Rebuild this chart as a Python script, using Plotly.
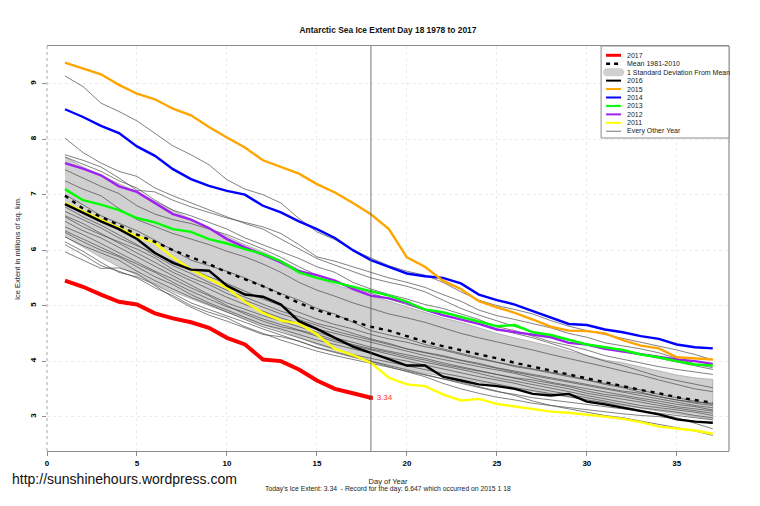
import plotly.graph_objects as go

days = list(range(1, 38))

ice_2017 = [5.45, 5.34, 5.2, 5.07, 5.02, 4.86, 4.77, 4.7, 4.6, 4.42, 4.3, 4.03, 4.0, 3.85, 3.65, 3.5, 3.42, 3.34]
ice_2016 = [6.83, 6.67, 6.52, 6.38, 6.2, 5.95, 5.77, 5.65, 5.63, 5.36, 5.2, 5.16, 5.02, 4.72, 4.58, 4.42, 4.26, 4.15, 4.03, 3.92, 3.92, 3.72, 3.65, 3.58, 3.55, 3.5, 3.41, 3.38, 3.41, 3.27, 3.22, 3.16, 3.09, 3.04, 2.95, 2.91, 2.89]
ice_2015 = [9.38, 9.27, 9.17, 8.98, 8.82, 8.72, 8.55, 8.43, 8.22, 8.03, 7.85, 7.62, 7.5, 7.38, 7.19, 7.04, 6.85, 6.647, 6.38, 5.87, 5.7, 5.45, 5.3, 5.08, 4.97, 4.87, 4.75, 4.62, 4.55, 4.54, 4.5, 4.38, 4.28, 4.23, 4.07, 4.05, 4.03]
ice_2014 = [8.54, 8.4, 8.24, 8.11, 7.87, 7.7, 7.46, 7.28, 7.16, 7.07, 7.0, 6.8, 6.68, 6.52, 6.38, 6.22, 6.0, 5.82, 5.7, 5.58, 5.53, 5.5, 5.4, 5.2, 5.1, 5.02, 4.9, 4.78, 4.67, 4.65, 4.57, 4.52, 4.45, 4.4, 4.3, 4.25, 4.23]
ice_2013 = [7.1, 6.9, 6.82, 6.72, 6.58, 6.5, 6.38, 6.33, 6.2, 6.12, 6.02, 5.93, 5.8, 5.6, 5.5, 5.42, 5.33, 5.25, 5.18, 5.07, 4.93, 4.88, 4.8, 4.72, 4.63, 4.65, 4.52, 4.47, 4.38, 4.3, 4.25, 4.2, 4.12, 4.07, 4.0, 3.94, 3.92]
ice_2012 = [7.57, 7.47, 7.35, 7.15, 7.05, 6.85, 6.65, 6.55, 6.4, 6.2, 6.05, 5.92, 5.78, 5.62, 5.55, 5.45, 5.3, 5.18, 5.13, 5.05, 4.93, 4.83, 4.75, 4.67, 4.57, 4.52, 4.47, 4.43, 4.33, 4.3, 4.22, 4.17, 4.12, 4.07, 4.03, 4.0, 3.95]
ice_2011 = [6.85, 6.7, 6.55, 6.4, 6.25, 6.13, 5.87, 5.65, 5.48, 5.32, 5.07, 4.87, 4.73, 4.68, 4.48, 4.22, 4.11, 3.97, 3.7, 3.58, 3.55, 3.4, 3.29, 3.32, 3.23, 3.18, 3.14, 3.09, 3.07, 3.04, 3.0, 2.96, 2.9, 2.82, 2.78, 2.75, 2.69]
mean_81_10 = [6.98, 6.75, 6.6, 6.45, 6.28, 6.15, 6.0, 5.88, 5.75, 5.6, 5.47, 5.35, 5.2, 5.05, 4.92, 4.82, 4.72, 4.62, 4.55, 4.45, 4.35, 4.27, 4.2, 4.13, 4.05, 3.97, 3.9, 3.82, 3.75, 3.68, 3.62, 3.55, 3.48, 3.42, 3.35, 3.3, 3.25]
sd_upper = [7.68, 7.5, 7.35, 7.2, 7.05, 6.88, 6.72, 6.55, 6.4, 6.25, 6.1, 5.97, 5.82, 5.65, 5.5, 5.38, 5.27, 5.17, 5.08, 4.98, 4.88, 4.78, 4.7, 4.6, 4.5, 4.42, 4.35, 4.27, 4.18, 4.1, 4.02, 3.97, 3.9, 3.82, 3.75, 3.7, 3.67]
sd_lower = [6.24, 6.05, 5.87, 5.7, 5.55, 5.4, 5.25, 5.12, 5.0, 4.88, 4.76, 4.65, 4.55, 4.43, 4.3, 4.2, 4.1, 4.0, 3.93, 3.85, 3.78, 3.72, 3.67, 3.62, 3.57, 3.5, 3.45, 3.4, 3.35, 3.3, 3.25, 3.2, 3.15, 3.1, 3.05, 3.0, 2.95]

# every other year, thin lines
other_years = [
    [9.14, 8.95, 8.65, 8.5, 8.33, 8.1, 7.88, 7.72, 7.54, 7.27, 7.1, 7.0, 6.85, 6.57, 6.33, 6.19, 6.0, 5.86, 5.72, 5.62, 5.55, 5.42, 5.25, 5.1, 5.0, 4.93, 4.85, 4.73, 4.63, 4.55, 4.48, 4.42, 4.35, 4.27, 4.2, 4.12, 4.02],
    [8.02, 7.76, 7.57, 7.42, 7.33, 7.12, 6.98, 6.85, 6.72, 6.6, 6.48, 6.38, 6.2, 6.02, 5.85, 5.73, 5.62, 5.5, 5.42, 5.35, 5.25, 5.1, 4.95, 4.83, 4.73, 4.62, 4.52, 4.45, 4.38, 4.3, 4.22, 4.17, 4.12, 4.05, 3.98, 3.92, 3.85],
    [7.72, 7.62, 7.5, 7.3, 7.08, 7.05, 6.9, 6.78, 6.68, 6.58, 6.5, 6.42, 6.3, 6.1, 5.88, 5.8, 5.7, 5.6, 5.5, 5.42, 5.33, 5.2, 5.08, 4.92, 4.82, 4.75, 4.67, 4.6, 4.5, 4.43, 4.33, 4.28, 4.22, 4.15, 4.05, 3.95, 3.88],
    [7.68, 7.55, 7.42, 7.25, 7.12, 6.9, 6.72, 6.62, 6.5, 6.38, 6.22, 6.1, 5.98, 5.85, 5.7, 5.6, 5.42, 5.3, 5.2, 5.12, 5.02, 4.95, 4.85, 4.75, 4.62, 4.55, 4.45, 4.35, 4.28, 4.2, 4.1, 4.03, 3.97, 3.9, 3.85, 3.8, 3.76],
    [7.45, 7.3, 7.15, 7.02, 6.8, 6.65, 6.55, 6.48, 6.38, 6.28, 6.15, 6.02, 5.87, 5.7, 5.55, 5.45, 5.33, 5.22, 5.12, 5.02, 4.92, 4.82, 4.75, 4.68, 4.58, 4.5, 4.42, 4.32, 4.22, 4.1, 4.0, 3.92, 3.82, 3.72, 3.65, 3.58, 3.52],
    [7.25, 7.1, 6.98, 6.75, 6.55, 6.42, 6.3, 6.2, 6.1, 5.98, 5.88, 5.75, 5.6, 5.42, 5.28, 5.17, 5.05, 4.95, 4.85, 4.78, 4.7, 4.6, 4.5, 4.42, 4.35, 4.28, 4.2, 4.12, 4.05, 3.98, 3.9, 3.82, 3.75, 3.66, 3.58, 3.5, 3.45],
    [7.0, 6.82, 6.62, 6.48, 6.35, 6.18, 6.0, 5.82, 5.72, 5.62, 5.5, 5.35, 5.22, 5.1, 4.95, 4.85, 4.7, 4.55, 4.47, 4.4, 4.3, 4.22, 4.14, 4.05, 3.97, 3.9, 3.85, 3.78, 3.72, 3.66, 3.58, 3.52, 3.44, 3.36, 3.3, 3.24, 3.2],
    [6.78, 6.6, 6.45, 6.28, 6.1, 5.9, 5.72, 5.58, 5.42, 5.28, 5.15, 5.02, 4.9, 4.8, 4.68, 4.6, 4.5, 4.4, 4.32, 4.22, 4.15, 4.08, 4.0, 3.94, 3.86, 3.8, 3.74, 3.68, 3.62, 3.55, 3.5, 3.44, 3.38, 3.32, 3.26, 3.2, 3.16],
    [6.62, 6.48, 6.3, 6.12, 5.95, 5.78, 5.6, 5.45, 5.3, 5.15, 5.02, 4.9, 4.78, 4.68, 4.58, 4.5, 4.42, 4.33, 4.26, 4.18, 4.1, 4.03, 3.96, 3.9, 3.84, 3.78, 3.7, 3.62, 3.56, 3.5, 3.44, 3.38, 3.33, 3.28, 3.22, 3.18, 3.12],
    [6.52, 6.35, 6.22, 6.05, 5.88, 5.72, 5.55, 5.38, 5.2, 5.05, 4.93, 4.82, 4.72, 4.62, 4.52, 4.42, 4.34, 4.25, 4.18, 4.12, 4.05, 3.97, 3.9, 3.82, 3.75, 3.68, 3.62, 3.56, 3.5, 3.42, 3.37, 3.32, 3.26, 3.2, 3.15, 3.1, 3.06],
    [6.42, 6.28, 6.12, 5.95, 5.78, 5.62, 5.48, 5.32, 5.18, 5.0, 4.85, 4.72, 4.62, 4.55, 4.45, 4.35, 4.28, 4.2, 4.12, 4.05, 3.98, 3.92, 3.85, 3.78, 3.7, 3.64, 3.58, 3.52, 3.45, 3.38, 3.32, 3.26, 3.2, 3.16, 3.12, 3.08, 3.02],
    [6.32, 6.15, 6.0, 5.88, 5.7, 5.52, 5.38, 5.2, 5.05, 4.92, 4.78, 4.66, 4.58, 4.48, 4.38, 4.3, 4.22, 4.14, 4.06, 4.0, 3.93, 3.86, 3.78, 3.72, 3.66, 3.6, 3.52, 3.46, 3.4, 3.34, 3.28, 3.22, 3.16, 3.12, 3.08, 3.02, 2.98],
    [6.24, 6.08, 5.95, 5.82, 5.62, 5.45, 5.3, 5.15, 5.02, 4.88, 4.75, 4.62, 4.52, 4.42, 4.32, 4.22, 4.12, 4.05, 3.98, 3.92, 3.85, 3.78, 3.72, 3.65, 3.58, 3.52, 3.47, 3.42, 3.36, 3.3, 3.25, 3.18, 3.12, 3.05, 2.98, 2.88, 2.78],
    [6.15, 5.98, 5.78, 5.6, 5.52, 5.38, 5.22, 5.05, 4.93, 4.82, 4.7, 4.58, 4.47, 4.35, 4.25, 4.17, 4.08, 4.0, 3.92, 3.84, 3.76, 3.68, 3.62, 3.54, 3.46, 3.38, 3.28, 3.2, 3.14, 3.08, 3.02, 2.98, 2.92, 2.86, 2.8, 2.74, 2.66],
    [6.1, 5.92, 5.72, 5.62, 5.5, 5.32, 5.18, 5.0, 4.88, 4.78, 4.62, 4.5, 4.38, 4.28, 4.18, 4.1, 4.03, 3.96, 3.9, 3.82, 3.75, 3.68, 3.6, 3.52, 3.45, 3.4, 3.34, 3.3, 3.26, 3.22, 3.18, 3.14, 3.1, 3.06, 3.02, 2.98, 2.94],
    [5.97, 5.82, 5.67, 5.68, 5.58, 5.36, 5.15, 4.97, 4.83, 4.72, 4.6, 4.48, 4.44, 4.36, 4.24, 4.15, 4.07, 3.99, 3.9, 3.82, 3.72, 3.6, 3.5, 3.42, 3.35, 3.3, 3.24, 3.2, 3.16, 3.12, 3.08, 3.05, 3.02, 3.0, 2.96, 2.92, 2.88],
    [6.6, 6.42, 6.28, 6.15, 6.02, 5.86, 5.65, 5.5, 5.38, 5.22, 5.1, 4.98, 4.85, 4.75, 4.64, 4.54, 4.46, 4.38, 4.3, 4.22, 4.16, 4.1, 4.02, 3.96, 3.88, 3.82, 3.76, 3.7, 3.64, 3.58, 3.52, 3.46, 3.42, 3.36, 3.3, 3.26, 3.24],
    [6.35, 6.2, 6.05, 5.9, 5.76, 5.6, 5.42, 5.26, 5.12, 4.98, 4.88, 4.76, 4.66, 4.56, 4.48, 4.38, 4.3, 4.22, 4.16, 4.08, 4.02, 3.94, 3.88, 3.82, 3.76, 3.7, 3.66, 3.6, 3.54, 3.46, 3.4, 3.36, 3.3, 3.24, 3.18, 3.14, 3.1],
    [6.7, 6.55, 6.4, 6.22, 6.08, 5.95, 5.8, 5.66, 5.52, 5.4, 5.26, 5.12, 5.0, 4.88, 4.76, 4.66, 4.58, 4.48, 4.4, 4.34, 4.26, 4.2, 4.12, 4.04, 3.98, 3.92, 3.86, 3.8, 3.74, 3.66, 3.6, 3.54, 3.48, 3.4, 3.34, 3.28, 3.22],
]

legend_labels = ["2017", "Mean 1981-2010", "1 Standard Deviation From Mean", "2016", "2015", "2014", "2013", "2012", "2011", "Every Other Year"]
legend_colors = ["#ff0000", "#000000", "#d0d0d0", "#000000", "#ffa500", "#0000ff", "#00ff00", "#a020f0", "#ffff00", "#555555"]
legend_widths = [3, 2.4, 0, 2, 2, 2, 2, 2, 2, 0.8]

FONT = "Liberation Sans"
LINE_W = 2.4


def px_x(px):
    # window pixel to paper
    return (px - 46.5) / 682.5


def px_y(py):
    return (451 - py) / 405


fig = go.Figure()

fig.add_trace(go.Scatter(x=days + days[::-1], y=sd_upper + sd_lower[::-1], mode="lines", fill="toself",
                         fillcolor="#d0d0d0", line=dict(color="#8a8a8a", width=0.5)))

for vals in other_years:
    fig.add_trace(go.Scatter(x=days, y=vals, mode="lines", line=dict(color="#4a4a4a", width=0.7)))

fig.add_trace(go.Scatter(x=days, y=ice_2011, mode="lines", line=dict(color="#ffff00", width=LINE_W), name="2011"))
fig.add_trace(go.Scatter(x=days, y=ice_2012, mode="lines", line=dict(color="#a020f0", width=LINE_W), name="2012"))
fig.add_trace(go.Scatter(x=days, y=ice_2013, mode="lines", line=dict(color="#00ff00", width=LINE_W), name="2013"))
fig.add_trace(go.Scatter(x=days, y=ice_2014, mode="lines", line=dict(color="#0000ff", width=LINE_W), name="2014"))
fig.add_trace(go.Scatter(x=days, y=ice_2015, mode="lines", line=dict(color="#ffa500", width=LINE_W), name="2015"))
fig.add_trace(go.Scatter(x=days, y=ice_2016, mode="lines", line=dict(color="#000000", width=LINE_W), name="2016"))
fig.add_trace(go.Scatter(x=days, y=mean_81_10, mode="lines", line=dict(color="#000000", width=LINE_W, dash="4px,5px"),
                         name="Mean 1981-2010"))
fig.add_trace(go.Scatter(x=days[:len(ice_2017)], y=ice_2017, mode="lines", line=dict(color="#ff0000", width=4), name="2017"))
fig.add_trace(go.Scatter(x=[days[len(ice_2017) - 1]], y=[ice_2017[-1]], mode="markers+text",
                         marker=dict(color="#ff0000", size=4, symbol="square"),
                         text=[f" {ice_2017[-1]}"], textposition="middle right",
                         textfont=dict(color="#ff3030", size=8, family=FONT)))

fig.add_vline(x=18, line_color="#555555", line_width=0.8)

# right edge solid, left edge dotted like the original device
fig.add_shape(type="line", xref="paper", yref="paper", x0=1, x1=1, y0=0, y1=1, line=dict(color="#8c8c8c", width=1.2))
fig.add_shape(type="line", xref="paper", yref="paper", x0=0, x1=0, y0=0, y1=1, line=dict(color="#a8a8a8", width=1, dash="dot"))

# legend box, plotly's own legend can't make rows this tight
row_h = 8.44
fig.add_shape(type="rect", xref="paper", yref="paper", x0=px_x(601), x1=1, y0=px_y(138), y1=1,
              fillcolor="white", line=dict(color="#8c8c8c", width=1), layer="above")

annotations = []
for i, (label, color, width) in enumerate(zip(legend_labels, legend_colors, legend_widths)):
    row_y = 55.3 + i * row_h
    if width == 0:
        x0, x1, y0, y1 = px_x(603), px_x(624), px_y(row_y + 4), px_y(row_y - 4)
        r = px_x(607) - px_x(603)
        fig.add_shape(type="path", xref="paper", yref="paper", layer="above", fillcolor=color, line=dict(width=0),
                      path=f"M {x0 + r} {y0} L {x1 - r} {y0} Q {x1} {y0} {x1} {(y0 + y1) / 2} Q {x1} {y1} {x1 - r} {y1} "
                           f"L {x0 + r} {y1} Q {x0} {y1} {x0} {(y0 + y1) / 2} Q {x0} {y0} {x0 + r} {y0} Z")
    else:
        dash = "4px,4px" if label.startswith("Mean") else "solid"
        fig.add_shape(type="line", xref="paper", yref="paper", layer="above", x0=px_x(606), x1=px_x(621),
                      y0=px_y(row_y), y1=px_y(row_y), line=dict(color=color, width=width, dash=dash))
    annotations.append(dict(text=label, xref="paper", yref="paper", x=px_x(626), y=px_y(row_y), xanchor="left",
                            yanchor="middle", showarrow=False, xshift=-1,
                            font=dict(family=FONT, size=7, color="#222222")))

annotations.append(dict(text="http://sunshinehours.wordpress.com", xref="paper", yref="paper", x=px_x(10), y=px_y(479),
                        xanchor="left", yanchor="middle", showarrow=False, xshift=-1,
                        font=dict(family=FONT, size=14, color="#111111")))
annotations.append(dict(text="Today's Ice Extent: 3.34  - Record for the day: 6.647 which occurred on 2015 1 18",
                        xref="paper", yref="paper", x=0.5, y=px_y(488.7), xanchor="center", yanchor="middle",
                        showarrow=False, font=dict(family=FONT, size=6.8, color="#222222")))

axis_common = dict(ticks="outside", ticklen=4, tickcolor="#8c8c8c", showgrid=True, gridcolor="#ececec",
                   griddash="dot", gridwidth=1, zeroline=False, automargin=False,
                   tickfont=dict(family=FONT, size=8, color="#000000", weight="bold"))

fig.update_xaxes(range=[0, 37.9], tick0=0, dtick=5, showline=True, mirror=True, linecolor="#8c8c8c", linewidth=1.2,
                 title=dict(text="Day of Year", font=dict(family=FONT, size=7.5, color="#222222"), standoff=12),
                 **axis_common)
fig.update_yaxes(range=[2.38, 9.68], tick0=3, dtick=1, tickangle=-90, showline=False, ticklabelstandoff=3,
                 title=dict(text="Ice Extent in millions of sq. km.", font=dict(family=FONT, size=7.5, color="#222222"), standoff=7),
                 **axis_common)

# the page has an 8px body margin, so the figure is 8px smaller than the window
fig.update_layout(
    width=752, height=498, autosize=False,
    margin=dict(l=38.5, r=31, t=38, b=55, pad=0),
    paper_bgcolor="white", plot_bgcolor="white",
    font=dict(family=FONT, color="#222222"),
    showlegend=False,
    title=dict(text="<b>Antarctic Sea Ice Extent Day 18 1978 to 2017</b>", x=0.5053, xanchor="center",
               y=0.956, yanchor="middle", font=dict(family=FONT, size=8.4, color="#111111")),
    annotations=annotations,
)

fig.write_html("out.html")
